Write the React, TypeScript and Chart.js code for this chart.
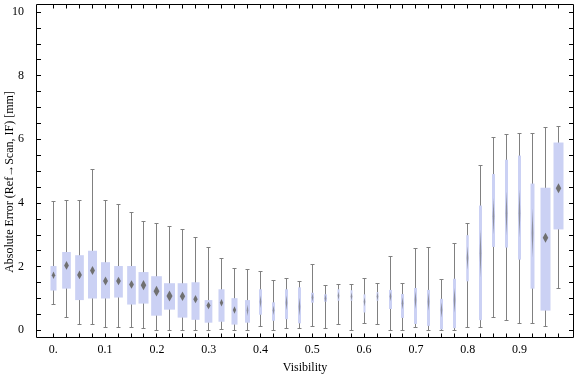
import { useEffect, useRef } from "react";
import { Chart, registerables } from "chart.js";

Chart.register(...registerables);

// Box positions (visibility bins)
const visibility = [
  0, 0.025, 0.05, 0.075, 0.1, 0.125, 0.15, 0.175, 0.2, 0.225,
  0.25, 0.275, 0.3, 0.325, 0.35, 0.375, 0.4, 0.425, 0.45, 0.475,
  0.5, 0.525, 0.55, 0.575, 0.6, 0.625, 0.65, 0.675, 0.7, 0.725,
  0.75, 0.775, 0.8, 0.825, 0.85, 0.875, 0.9, 0.925, 0.95, 0.975,
];
const whiskerLow = [
  0.81, 0.4, 0.18, 0.18, 0.08, 0.08, 0.08, 0.05, 0.0, 0.0,
  0.0, 0.0, 0.0, 0.02, 0.0, 0.0, 0.12, 0.0, 0.05, 0.05,
  0.12, 0.05, 0.2, 0.0, 0.21, 0.18, 0.0, 0.0, 0.1, 0.0,
  0.0, 0.0, 0.1, 0.1, 0.42, 0.31, 0.23, 0.21, 0.12, 1.31,
];
const quartile1 = [
  1.24, 1.3, 0.94, 0.99, 0.99, 1.02, 0.8, 0.83, 0.45, 0.64,
  0.39, 0.32, 0.23, 0.26, 0.17, 0.23, 0.48, 0.29, 0.34, 0.21,
  0.86, 0.89, 0.92, 0.92, 0.55, 0.92, 0.66, 0.38, 0.19, 0.13,
  0.02, 0.06, 1.53, 0.31, 2.61, 2.59, 2.21, 1.3, 0.61, 3.16,
];
const medians = [
  1.72, 2.03, 1.73, 1.87, 1.54, 1.54, 1.43, 1.41, 1.22, 1.07,
  1.06, 0.97, 0.77, 0.86, 0.63, 0.62, 0.89, 0.62, 0.86, 0.73,
  1.02, 0.99, 1.08, 1.05, 0.89, 1.05, 1.05, 0.84, 0.94, 0.89,
  0.63, 0.94, 2.26, 2.41, 3.57, 3.67, 3.67, 3.05, 2.9, 4.45,
];
const quartile3 = [
  2.01, 2.45, 2.35, 2.49, 2.13, 2.01, 2.01, 1.82, 1.69, 1.47,
  1.47, 1.5, 0.94, 1.28, 1.0, 0.94, 1.28, 0.87, 1.28, 1.34,
  1.17, 1.12, 1.28, 1.25, 1.12, 1.19, 1.26, 1.13, 1.32, 1.26,
  0.98, 1.61, 2.98, 3.91, 4.9, 5.35, 5.48, 4.6, 4.47, 5.89,
];
const whiskerHigh = [
  4.04, 4.07, 4.07, 5.05, 4.07, 3.96, 3.71, 3.42, 3.36, 3.27,
  3.17, 2.92, 2.6, 2.26, 1.94, 1.91, 1.85, 1.57, 1.63, 1.53,
  2.07, 1.41, 1.44, 1.44, 1.63, 1.47, 2.33, 1.47, 2.57, 2.61,
  1.6, 2.73, 3.36, 5.19, 6.07, 6.17, 6.19, 6.19, 6.38, 6.42,
];
// relative sample share of each bin (drives the box width)
const sampleShare = [
  0.55, 0.79, 0.79, 0.82, 0.82, 0.79, 0.79, 0.91, 0.97, 1.0,
  0.88, 0.73, 0.7, 0.55, 0.55, 0.45, 0.27, 0.27, 0.27, 0.27,
  0.27, 0.27, 0.18, 0.18, 0.18, 0.18, 0.27, 0.27, 0.27, 0.27,
  0.27, 0.27, 0.23, 0.27, 0.27, 0.27, 0.27, 0.36, 0.91, 0.91,
];

const xTickValues = [0, 0.1, 0.2, 0.3, 0.4, 0.5, 0.6, 0.7, 0.8, 0.9];
const xTickLabels = ["0.", "0.1", "0.2", "0.3", "0.4", "0.5", "0.6", "0.7", "0.8", "0.9"];
const yTickValues = [0, 2, 4, 6, 8, 10];
const yTickLabels = ["0", "2", "4", "6", "8", "10"];

const xTitle = "Visibility";
const yTitle = "Absolute Error (Ref\u2192Scan, IF) [mm]";

const FONT = '"Liberation Serif", "Times New Roman", serif';
const MAX_BOX_PX = 11;
const BOX_COLOR = "rgb(203, 209, 244)";
const WHISKER_COLOR = "rgb(128, 128, 128)";
const MEDIAN_COLOR = "rgb(112, 112, 112)";

const boxPlugin = {
  id: "boxWhisker",
  afterDatasetsDraw(chart: any) {
    const { ctx, scales } = chart;
    const x = scales.x;
    const y = scales.y;
    ctx.save();
    for (let i = 0; i < visibility.length; i++) {
      const cx = Math.floor(x.getPixelForValue(visibility[i])) + 0.5;
      const w = sampleShare[i] * MAX_BOX_PX;
      const yLo = Math.round(y.getPixelForValue(whiskerLow[i])) + 0.5;
      const yHi = Math.round(y.getPixelForValue(whiskerHigh[i])) + 0.5;
      const yQ1 = y.getPixelForValue(quartile1[i]);
      const yQ3 = y.getPixelForValue(quartile3[i]);
      const yMed = y.getPixelForValue(medians[i]);
      // whisker
      ctx.strokeStyle = WHISKER_COLOR;
      ctx.lineWidth = 1;
      ctx.beginPath();
      ctx.moveTo(cx, yLo);
      ctx.lineTo(cx, yHi);
      ctx.moveTo(cx - 2, yLo);
      ctx.lineTo(cx + 2, yLo);
      ctx.moveTo(cx - 2, yHi);
      ctx.lineTo(cx + 2, yHi);
      ctx.stroke();
      // box
      ctx.fillStyle = BOX_COLOR;
      ctx.fillRect(cx - w / 2, yQ3, w, yQ1 - yQ3);
      // median diamond
      const iqr = yQ1 - yQ3;
      let dw: number, dh: number;
      if (w >= 5) {
        dw = w * 0.55;
        dh = Math.max(7.5, w);
        ctx.fillStyle = MEDIAN_COLOR;
      } else {
        dw = 1.6;
        dh = Math.min(48, Math.max(8, iqr * 0.5));
        ctx.fillStyle = "rgba(100, 100, 100, 0.6)";
      }
      ctx.beginPath();
      ctx.moveTo(cx, yMed - dh / 2);
      ctx.lineTo(cx + dw / 2, yMed);
      ctx.lineTo(cx, yMed + dh / 2);
      ctx.lineTo(cx - dw / 2, yMed);
      ctx.closePath();
      ctx.fill();
    }
    ctx.restore();
  },
  afterDraw(chart: any) {
    const { ctx, chartArea, scales } = chart;
    const x = scales.x;
    const y = scales.y;
    const { left, right, top, bottom } = chartArea;
    ctx.save();
    ctx.strokeStyle = "#000";
    ctx.lineWidth = 1;
    ctx.beginPath();
    ctx.rect(left + 0.5, top + 0.5, right - left - 1, bottom - top - 1);
    // x ticks (each bin), inward on bottom and top
    for (const v of visibility) {
      const px = Math.floor(x.getPixelForValue(v)) + 0.5;
      ctx.moveTo(px, bottom - 0.5);
      ctx.lineTo(px, bottom - 4.5);
      ctx.moveTo(px, top + 0.5);
      ctx.lineTo(px, top + 4.5);
    }
    // y ticks every half unit, inward on left and right
    for (let k = 0; k <= 20; k++) {
      const py = Math.round(y.getPixelForValue(k * 0.5)) + 0.5;
      ctx.moveTo(left + 0.5, py);
      ctx.lineTo(left + 5, py);
      ctx.moveTo(right - 0.5, py);
      ctx.lineTo(right - 5, py);
    }
    ctx.stroke();
    // y axis title
    ctx.fillStyle = "#000";
    ctx.font = `12px ${FONT}`;
    ctx.textAlign = "center";
    ctx.textBaseline = "middle";
    ctx.translate(10, 182);
    ctx.rotate(-Math.PI / 2);
    ctx.fillText(yTitle, 0, 0);
    ctx.restore();
  },
};

const zeroPadding = (s: any) => {
  s.paddingTop = 0;
  s.paddingBottom = 0;
  s.paddingLeft = 0;
  s.paddingRight = 0;
};

export default function App() {
  const ref = useRef<HTMLCanvasElement | null>(null);
  useEffect(() => {
    const canvas = ref.current;
    if (!canvas) return;
    const chart = new Chart(canvas, {
      type: "scatter",
      data: {
        datasets: [
          {
            data: visibility.map((v, i) => ({ x: v, y: medians[i] })),
            pointRadius: 0,
            pointHoverRadius: 0,
            borderWidth: 0,
            showLine: false,
          },
        ],
      },
      options: {
        responsive: false,
        animation: false,
        devicePixelRatio: 1,
        events: [],
        layout: { autoPadding: false, padding: { top: 4, right: 2, left: 0, bottom: 0 } },
        plugins: { legend: { display: false }, tooltip: { enabled: false } },
        scales: {
          x: {
            type: "linear",
            min: -0.0334,
            max: 1.0052,
            grid: { display: false },
            border: { display: false },
            afterBuildTicks: (s: any) => {
              s.ticks = xTickValues.map((v) => ({ value: v }));
            },
            afterFit: (s: any) => {
              s.height = 39;
              zeroPadding(s);
            },
            ticks: {
              autoSkip: false,
              maxRotation: 0,
              padding: -3,
              color: "#000",
              font: { family: FONT, size: 12 },
              callback: (_v: any, i: number) => xTickLabels[i],
            },
            title: {
              display: true,
              text: xTitle,
              color: "#000",
              font: { family: FONT, size: 12 },
              padding: { top: 0, bottom: 2 },
            },
          },
          y: {
            type: "linear",
            min: -0.251,
            max: 10.242,
            grid: { display: false },
            border: { display: false },
            afterBuildTicks: (s: any) => {
              s.ticks = yTickValues.map((v) => ({ value: v }));
            },
            afterFit: (s: any) => {
              s.width = 36;
              zeroPadding(s);
            },
            ticks: {
              autoSkip: false,
              padding: 4,
              color: "#000",
              font: { family: FONT, size: 12 },
              callback: (_v: any, i: number) => yTickLabels[i],
            },
          },
        },
      },
      plugins: [boxPlugin],
    } as any);
    return () => chart.destroy();
  }, []);
  return (
    <div style={{ position: "fixed", left: 0, top: 0, width: 576, height: 377, background: "#fff" }}>
      <canvas ref={ref} width={576} height={377} style={{ display: "block" }} />
    </div>
  );
}
